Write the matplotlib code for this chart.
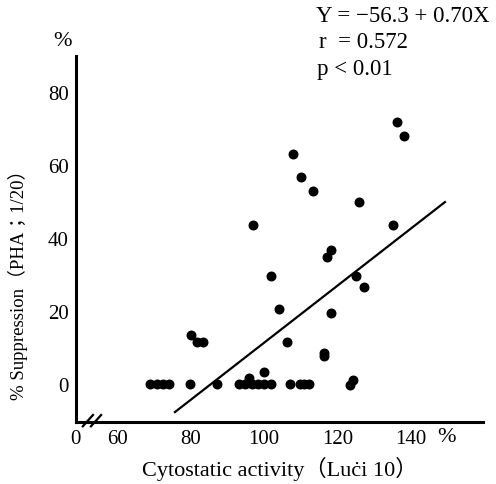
import numpy as np
import matplotlib
matplotlib.use("Agg")
import matplotlib.pyplot as plt

plt.rcParams['font.family'] = ['Liberation Serif', 'Noto Sans CJK JP', 'DejaVu Serif']

# scatter points (cytostatic activity %, suppression %)
pts_x = [136.2, 138.2, 108.0, 110.0, 113.2, 126.0, 96.9, 135.2, 118.2, 117.1,
         101.9, 125.1, 127.1, 104.1, 118.2, 80.0, 81.7, 83.3, 106.2, 116.2,
         116.2, 100.0, 95.9, 124.3, 123.4]
pts_y = [71.9, 68.0, 63.0, 56.9, 52.8, 49.8, 43.7, 43.7, 36.7, 34.8,
         29.7, 29.7, 26.7, 20.5, 19.5, 13.4, 11.5, 11.5, 11.6, 8.5,
         7.6, 3.4, 1.6, 1.0, -0.2]
# points lying on the 0 % line
zero_x = [69.0, 70.7, 72.4, 74.1, 79.8, 87.1, 93.2, 94.9, 96.7, 98.3,
          100.1, 101.9, 107.1, 109.8, 111.0, 112.2]
zero_y = [0] * len(zero_x)

# regression line as drawn
line_x = [75.7, 149.3]
line_y = [-7.7, 49.9]

xticks = [48.7, 60, 80, 100, 120, 140]
xtick_labels = ['0', '60', '80', '100', '120', '140']
yticks = [0, 20, 40, 60, 80]

fig = plt.figure(figsize=(4.96, 4.85), dpi=100)
ax = fig.add_axes([0.153, 0.128, 0.821, 0.754])

ax.scatter(pts_x + zero_x, pts_y + zero_y, s=38, color='black', zorder=3)
ax.plot(line_x, line_y, color='black', lw=1.6)

ax.set_xlim(48.7, 159.7)
ax.set_ylim(-10.4, 89.9)

ax.spines['top'].set_visible(False)
ax.spines['right'].set_visible(False)
ax.spines['left'].set_linewidth(2.2)
ax.spines['bottom'].set_linewidth(2.2)

ax.set_xticks(xticks)
ax.set_xticklabels(xtick_labels)
ax.set_yticks(yticks)
ax.tick_params(length=0, labelsize=15, pad=5)

# axis break marks
for x0 in (0.017, 0.037):
    ax.plot([x0, x0 + 0.025], [-0.012, 0.019], color='black', lw=1.6,
            transform=ax.transAxes, clip_on=False)

ax.set_xlabel('Cytostatic activity（Luċi 10）', fontsize=16, labelpad=6)
ax.set_ylabel('% Suppression（PHA；1/20）', fontsize=13.5)
ax.yaxis.set_label_coords(-0.118, 0.39)

fig.text(62 / 496, 1 - 42 / 485, '%', fontsize=16, ha='center', va='center')
fig.text(447 / 496, 1 - 438 / 485, '%', fontsize=16, ha='center', va='center')

fig.text(316 / 496, 1 - 16 / 485, 'Y = −56.3 + 0.70X', fontsize=16.5, va='center')
fig.text(319 / 496, 1 - 43 / 485, 'r  = 0.572', fontsize=16.5, va='center')
fig.text(317 / 496, 1 - 70 / 485, 'p < 0.01', fontsize=16.5, va='center')

fig.savefig('out.png', dpi=100)
